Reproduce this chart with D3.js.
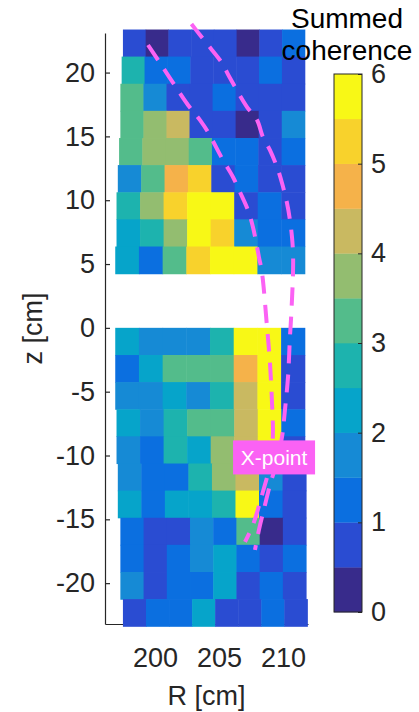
<!DOCTYPE html>
<html>
<head>
<meta charset="utf-8">
<script src="https://cdn.jsdelivr.net/npm/d3@7"></script>
<style>
  html, body { margin: 0; padding: 0; background: #fff; }
  svg { display: block; font-family: "Liberation Sans", Arial, Helvetica, sans-serif; }
</style>
</head>
<body>
<svg id="chart" width="419" height="712"></svg>
<script>
// ---- channel grid: row height (cm) and row centres in z (cm) ----
const rowHeight = 2.125;
const zUpper = [22.31, 20.19, 18.06, 15.94, 13.81, 11.69, 9.56, 7.44, 5.31];
const zLower = [-1.06, -3.19, -5.31, -7.44, -9.56, -11.69, -13.81, -15.94, -18.06, -20.19, -22.31];

// radial extent of each row of channels (cm)
const rInnerUpper = [197.5, 197.4, 197.3, 197.3, 197.2, 197.1, 197.0, 197.0, 196.9];
const rOuterUpper = [211.7, 211.7, 211.7, 211.7, 211.7, 211.7, 211.7, 211.7, 211.7];
const rInnerLower = [196.9, 196.9, 196.9, 197.0, 197.0, 197.1, 197.1, 197.3, 197.3, 197.3, 197.5];
const rOuterLower = [211.7, 211.7, 211.7, 211.7, 211.7, 211.8, 211.8, 211.8, 211.8, 211.8, 211.9];

// summed coherence, one row per z, 8 radial channels per row
const cohUpper = [
  [0.75, 0.25, 0.75, 0.75, 0.75, 0.25, 0.75, 1.25],
  [2.75, 1.25, 1.25, 0.75, 0.75, 0.75, 1.25, 0.75],
  [3.25, 1.75, 0.75, 0.75, 1.25, 0.75, 0.75, 0.75],
  [3.25, 3.75, 4.25, 0.75, 0.75, 0.25, 0.75, 1.75],
  [3.25, 3.75, 3.75, 3.25, 1.25, 1.25, 0.75, 1.25],
  [1.75, 3.25, 4.75, 5.25, 0.75, 1.25, 0.75, 0.75],
  [2.75, 3.75, 5.25, 5.75, 5.75, 0.75, 1.25, 0.75],
  [2.25, 2.75, 3.75, 5.75, 5.25, 1.75, 1.25, 1.25],
  [2.25, 1.25, 3.25, 5.25, 5.75, 5.75, 1.75, 1.75]
];
const cohLower = [
  [2.25, 1.75, 1.75, 1.75, 2.75, 5.75, 5.75, 1.25],
  [1.25, 2.25, 3.25, 3.25, 3.25, 4.75, 5.75, 0.75],
  [1.75, 1.75, 2.25, 1.75, 2.75, 4.25, 5.75, 0.75],
  [2.25, 1.75, 2.75, 3.25, 3.25, 4.25, 5.75, 1.25],
  [1.75, 1.25, 2.75, 2.25, 3.75, 4.25, 5.75, 0.75],
  [1.75, 1.25, 1.25, 2.75, 3.75, 4.25, 1.75, 0.75],
  [2.25, 1.25, 2.25, 2.25, 2.75, 5.75, 1.25, 0.75],
  [1.25, 0.75, 0.75, 1.75, 1.25, 3.25, 0.25, 0.75],
  [1.25, 0.75, 1.25, 1.75, 2.25, 1.25, 0.75, 1.25],
  [1.75, 0.75, 1.25, 1.25, 2.25, 0.75, 1.25, 0.75],
  [0.75, 1.25, 1.25, 2.25, 0.75, 0.75, 1.25, 0.75]
];

// flux-surface traces (R, z) in cm
const innerSurfaceR = [199.46, 200.39, 201.17, 202.58, 203.52, 204.14, 205.31, 206.09, 206.64, 207.26, 207.65, 208.12, 208.36, 208.75, 208.98, 209.14, 209.21, 209.06, 208.36, 207.65, 207.03];
const innerSurfaceZ = [22.16, 20.75, 19.57, 17.46, 16.28, 15.34, 13.15, 11.82, 10.64, 9.23, 7.90, 5.55, 4.30, 0.07, -2.75, -5.89, -8.24, -10.35, -13.09, -15.44, -16.77];
const outerSurfaceR = [202.85, 203.52, 204.45, 205.23, 205.86, 207.19, 207.97, 208.43, 208.98, 209.53, 209.92, 210.31, 210.54, 210.70, 210.78, 210.78, 210.62, 210.54, 210.39, 210.15, 209.92, 209.45, 208.98, 208.59, 208.12, 207.81];
const outerSurfaceZ = [23.80, 22.94, 21.77, 20.75, 19.57, 17.30, 16.28, 14.95, 13.93, 12.60, 11.35, 9.78, 8.45, 7.12, 5.87, 4.30, 0.62, -0.72, -3.85, -6.43, -8.55, -10.74, -12.31, -13.88, -15.83, -17.40];

const xPointLabel = { R: 209.3, z: -10.15, text: "X-point" };

// axis ticks
const rTicks = [200, 205, 210];
const zTicks = [-20, -15, -10, -5, 0, 5, 10, 15, 20];
const cbTicks = [0, 1, 2, 3, 4, 5, 6];

// parula, 12 levels over 0..6
const levelColors = ["#382b8b", "#2a4cd2", "#0b6fe0", "#168ad5", "#06a4ca", "#1db3ae",
                     "#53bc8b", "#93bd70", "#c9b961", "#f5b24a", "#f8d22c", "#f8f816"];

// ---- drawing ----
const svg = d3.select("#chart");
const ink = "#262626";
const fontSize = 27;

const x = d3.scaleLinear().domain([196.1, 211.95]).range([105, 308]);
const y = d3.scaleLinear().domain([-23.2, 23.1]).range([624, 33]);
const color = d3.scaleQuantize().domain([0, 6]).range(levelColors);

// axes (drawn beneath the data, as with the default axes layer)
const gy = svg.append("g").attr("transform", `translate(${x.range()[0]},0)`)
  .call(d3.axisLeft(y).tickValues(zTicks).tickSizeInner(-5).tickSizeOuter(0).tickPadding(10)
        .tickFormat(d => String(d)));
const gx = svg.append("g").attr("transform", `translate(0,${y.range()[0]})`)
  .call(d3.axisBottom(x).tickValues(rTicks).tickSizeInner(-5).tickSizeOuter(0).tickPadding(24));
[gx, gy].forEach(g => {
  g.select(".domain").attr("stroke", ink).attr("stroke-width", 1.2);
  g.selectAll(".tick line").attr("stroke", ink).attr("stroke-width", 1.2);
  g.selectAll(".tick text").attr("fill", ink).attr("font-size", fontSize)
    .attr("font-family", "Liberation Sans, Arial, sans-serif");
});

// channel cells
function cellsFor(zc, rIn, rOut, vals) {
  const out = [];
  zc.forEach((z, i) => {
    const w = (rOut[i] - rIn[i]) / vals[i].length;
    vals[i].forEach((v, j) => {
      out.push({ r0: rIn[i] + j * w, r1: rIn[i] + (j + 1) * w, z0: z - rowHeight / 2, z1: z + rowHeight / 2, v });
    });
  });
  return out;
}
const cells = cellsFor(zUpper, rInnerUpper, rOuterUpper, cohUpper)
  .concat(cellsFor(zLower, rInnerLower, rOuterLower, cohLower));

svg.append("g").selectAll("rect").data(cells).join("rect")
  .attr("x", d => x(d.r0))
  .attr("y", d => y(d.z1))
  .attr("width", d => x(d.r1) - x(d.r0) + 0.5)
  .attr("height", d => y(d.z0) - y(d.z1) + 0.6)
  .attr("fill", d => color(d.v));

// flux surfaces
const magenta = "#fb62f4";
const line = d3.line().x(d => x(d[0])).y(d => y(d[1])).curve(d3.curveCatmullRom.alpha(0.5));
[[innerSurfaceR, innerSurfaceZ], [outerSurfaceR, outerSurfaceZ]].forEach(([rs, zs]) => {
  svg.append("path")
    .attr("d", line(rs.map((r, i) => [r, zs[i]])))
    .attr("fill", "none")
    .attr("stroke", magenta)
    .attr("stroke-width", 4)
    .attr("stroke-dasharray", "18,11");
});

// X-point tag
const tagW = 82, tagH = 34;
const tx = x(xPointLabel.R), ty = y(xPointLabel.z);
svg.append("rect")
  .attr("x", tx - tagW / 2).attr("y", ty - tagH / 2)
  .attr("width", tagW).attr("height", tagH)
  .attr("fill", magenta);
svg.append("text")
  .attr("x", tx).attr("y", ty + 7.5)
  .attr("text-anchor", "middle")
  .attr("font-size", 21)
  .attr("fill", "#fff")
  .text(xPointLabel.text);

// axis labels
svg.append("text")
  .attr("x", (x.range()[0] + x.range()[1]) / 2).attr("y", 705)
  .attr("text-anchor", "middle").attr("font-size", fontSize).attr("fill", ink)
  .text("R [cm]");
svg.append("text")
  .attr("transform", `translate(42,${(y.range()[0] + y.range()[1]) / 2}) rotate(-90)`)
  .attr("text-anchor", "middle").attr("font-size", fontSize).attr("fill", ink)
  .text("z [cm]");

// colorbar
const cbX = 334, cbW = 28;
const cbY = d3.scaleLinear().domain([0, 6]).range([612, 74]);
const cb = svg.append("g");
cb.selectAll("rect.lvl").data(levelColors).join("rect")
  .attr("class", "lvl")
  .attr("x", cbX)
  .attr("y", (c, i) => cbY((i + 1) * 0.5))
  .attr("width", cbW)
  .attr("height", (c, i) => cbY(i * 0.5) - cbY((i + 1) * 0.5) + 0.3)
  .attr("fill", c => c);
cb.append("rect")
  .attr("x", cbX).attr("y", cbY(6)).attr("width", cbW).attr("height", cbY(0) - cbY(6))
  .attr("fill", "none").attr("stroke", ink).attr("stroke-width", 1);
const gcb = cb.append("g").attr("transform", `translate(${cbX + cbW},0)`)
  .call(d3.axisRight(cbY).tickValues(cbTicks).tickSizeInner(-4).tickSizeOuter(0).tickPadding(9)
        .tickFormat(d3.format("d")));
gcb.select(".domain").remove();
gcb.selectAll(".tick line").attr("stroke", ink).attr("stroke-width", 1);
gcb.selectAll(".tick text").attr("fill", ink).attr("font-size", fontSize)
  .attr("font-family", "Liberation Sans, Arial, sans-serif");

// colorbar title
svg.append("text")
  .attr("x", 347).attr("y", 28)
  .attr("text-anchor", "middle").attr("font-size", 28).attr("fill", "#000")
  .text("Summed");
svg.append("text")
  .attr("x", 347).attr("y", 60)
  .attr("text-anchor", "middle").attr("font-size", 28).attr("fill", "#000")
  .text("coherence");
</script>
</body>
</html>
